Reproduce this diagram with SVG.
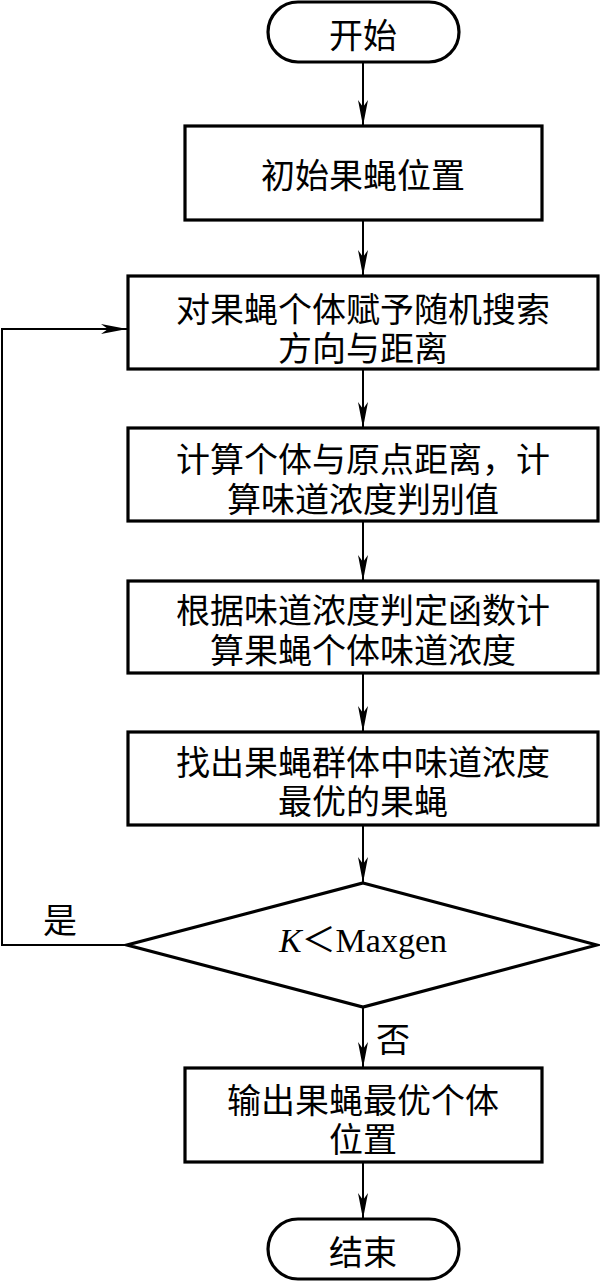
<svg xmlns="http://www.w3.org/2000/svg" width="600" height="1282" viewBox="0 0 600 1282">
<style>
.box{fill:#fff;stroke:#000;stroke-width:3.2}
.ln{fill:none;stroke:#000;stroke-width:2}
.t{font-family:"Noto Sans CJK SC","Liberation Serif",serif;font-size:34px;fill:#000;text-anchor:middle;dominant-baseline:central}
.m{font-family:"Liberation Serif","Noto Sans CJK SC",serif;font-size:34px;fill:#000;text-anchor:middle;dominant-baseline:central}
</style>
<defs>
<marker id="ah" markerUnits="userSpaceOnUse" markerWidth="28" markerHeight="12" refX="26" refY="5" orient="auto">
<path d="M0,0 L26,5 L0,10 L7,5 z" fill="#000"/>
</marker>
</defs>
<rect width="600" height="1282" fill="#fff"/>
<g id="connectors">
<line class="ln" x1="363" y1="62" x2="363" y2="126" marker-end="url(#ah)"/>
<line class="ln" x1="363" y1="220" x2="363" y2="276" marker-end="url(#ah)"/>
<line class="ln" x1="363" y1="369" x2="363" y2="428" marker-end="url(#ah)"/>
<line class="ln" x1="363" y1="521" x2="363" y2="581" marker-end="url(#ah)"/>
<line class="ln" x1="363" y1="673" x2="363" y2="732" marker-end="url(#ah)"/>
<line class="ln" x1="363" y1="825" x2="363" y2="883" marker-end="url(#ah)"/>
<line class="ln" x1="363" y1="1007" x2="363" y2="1068" marker-end="url(#ah)"/>
<line class="ln" x1="363" y1="1162" x2="363" y2="1219" marker-end="url(#ah)"/>
<polyline class="ln" points="127,945 2,945 2,329 127,329" marker-end="url(#ah)"/>
<text class="t" x="60" y="918">是</text>
<text class="t" x="393" y="1037">否</text>
</g>
<g id="start">
<rect class="box" x="268" y="2" width="191" height="60" rx="30" ry="30"/>
<text class="t" x="363" y="33">开始</text>
</g>
<g id="init">
<rect class="box" x="185" y="126" width="357" height="94"/>
<text class="t" x="363" y="173">初始果蝇位置</text>
</g>
<g id="search">
<rect class="box" x="128" y="276" width="470" height="93"/>
<text class="t" x="363" y="307">对果蝇个体赋予随机搜索<tspan x="363" dy="39">方向与距离</tspan></text>
</g>
<g id="dist">
<rect class="box" x="128" y="428" width="470" height="93"/>
<text class="t" x="363" y="457">计算个体与原点距离，计<tspan x="363" dy="40">算味道浓度判别值</tspan></text>
</g>
<g id="smell">
<rect class="box" x="128" y="581" width="470" height="92"/>
<text class="t" x="363" y="608">根据味道浓度判定函数计<tspan x="363" dy="40">算果蝇个体味道浓度</tspan></text>
</g>
<g id="best">
<rect class="box" x="128" y="732" width="470" height="93"/>
<text class="t" x="363" y="760">找出果蝇群体中味道浓度<tspan x="363" dy="39">最优的果蝇</tspan></text>
</g>
<g id="decision">
<polygon class="box" points="363,883 597,945 363,1007 127,945"/>
<text class="m" x="363" y="940"><tspan font-style="italic">K</tspan>＜Maxgen</text>
</g>
<g id="output">
<rect class="box" x="185" y="1068" width="357" height="94"/>
<text class="t" x="363" y="1098">输出果蝇最优个体<tspan x="363" dy="39">位置</tspan></text>
</g>
<g id="end">
<rect class="box" x="268" y="1219" width="191" height="60" rx="30" ry="30"/>
<text class="t" x="363" y="1250">结束</text>
</g>
</svg>
